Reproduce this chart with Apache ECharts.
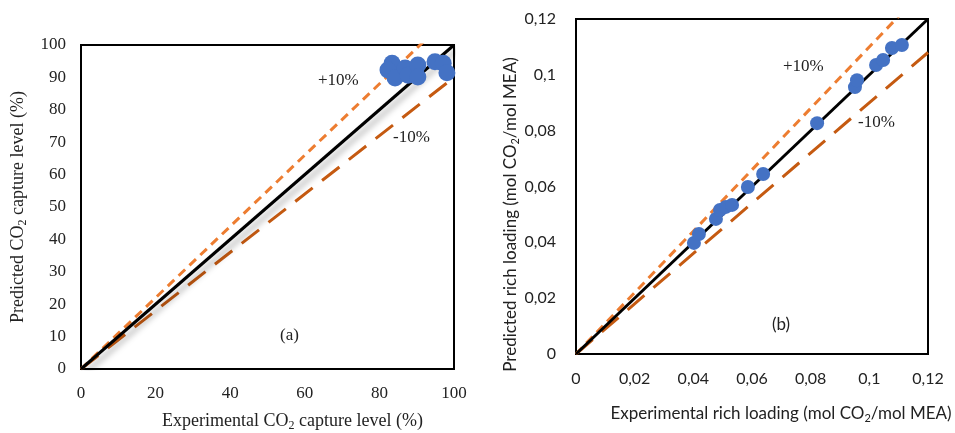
<!DOCTYPE html>
<html>
<head>
<meta charset="utf-8">
<script src="https://cdn.jsdelivr.net/npm/echarts@6/dist/echarts.min.js"></script>
<style>html,body{margin:0;padding:0;background:#fff;}#c{width:955px;height:433px;}</style>
</head>
<body>
<div id="c"></div>
<script>
// Left chart (a): CO2 capture level (%)
const captureExp = [83.4, 82.3, 84.2, 86.9, 87.7, 90.3, 90.3, 94.9, 97.1, 98.1];
const capturePred = [94.4, 92.3, 89.8, 92.9, 90.7, 93.8, 90.1, 94.8, 94.4, 91.4];
const captureTicks = ['0','10','20','30','40','50','60','70','80','90','100'];
// Right chart (b): rich loading (mol CO2/mol MEA)
const loadingExp = [0.0402, 0.0419, 0.0477, 0.0491, 0.0511, 0.0532, 0.0586, 0.0638, 0.0822, 0.0951, 0.0958, 0.1023, 0.1047, 0.1077, 0.1111];
const loadingPred = [0.0398, 0.0430, 0.0484, 0.0516, 0.0527, 0.0534, 0.0598, 0.0645, 0.0827, 0.0956, 0.0981, 0.1035, 0.1053, 0.1096, 0.1107];
const loadingTicks = ['0','0,02','0,04','0,06','0,08','0,1','0,12'];
// Reference lines: parity, +10 %, -10 %
const parityFactor = [1.0, 1.1, 0.9];

const serif = 'Liberation Serif';
const sans = 'Lato';
const blue = '#4472C4';
const orangeLight = '#ED7D31';
const orangeDark = '#C55A11';

function refLines(max, xi, yi, shadow) {
  const styles = [
    {color: '#000', width: 3, type: 'solid'},
    {color: orangeLight, width: 3, type: [9, 6]},
    {color: orangeDark, width: 3, type: [22, 12]}
  ];
  return parityFactor.map((f, i) => ({
    type: 'line', xAxisIndex: xi, yAxisIndex: yi, showSymbol: false, symbol: 'none',
    silent: true, clip: true, z: i === 0 ? 3 : 2,
    data: [[0, 0], [max, max * f]],
    lineStyle: Object.assign({}, styles[i], shadow && i === 0 ? {shadowColor: 'rgba(0,0,0,0.35)', shadowBlur: 6, shadowOffsetX: 4, shadowOffsetY: 4} : {})
  }));
}

const chart = echarts.init(document.getElementById('c'), null, {renderer: 'canvas'});
const richSerif = {
  a: {fontFamily: serif, fontSize: 18, color: '#222'},
  s: {fontFamily: serif, fontSize: 12, color: '#222', padding: [10, 0, 0, 0]}
};
const richSans = {
  a: {fontFamily: sans, fontSize: 17, color: '#222'},
  s: {fontFamily: sans, fontSize: 11, color: '#222', padding: [10, 0, 0, 0]}
};
const axisBase = {
  axisLine: {show: true, lineStyle: {color: '#000', width: 2}},
  axisTick: {show: false},
  splitLine: {show: false}
};

chart.setOption({
  animation: false,
  backgroundColor: '#fff',
  grid: [
    {left: 81, top: 45, width: 373, height: 324, containLabel: false, outerBoundsMode: 'none', show: true, borderColor: '#000', borderWidth: 2, backgroundColor: 'transparent'},
    {left: 576, top: 19, width: 352, height: 335, containLabel: false, outerBoundsMode: 'none', show: true, borderColor: '#000', borderWidth: 2, backgroundColor: 'transparent'}
  ],
  xAxis: [
    Object.assign({}, axisBase, {
      type: 'value', gridIndex: 0, min: 0, max: 100, interval: 20,
      axisLabel: {fontFamily: serif, fontSize: 17, color: '#222', margin: 16,
        formatter: v => captureTicks[Math.round(v / 10)]},
      name: '{a|Experimental CO}{s|2}{a| capture level (%)}', nameLocation: 'middle', nameGap: 41,
      nameTextStyle: {rich: richSerif, padding: [0, 0, 0, 50]}
    }),
    Object.assign({}, axisBase, {
      type: 'value', gridIndex: 1, min: 0, max: 0.12, interval: 0.02,
      axisLabel: {fontFamily: sans, fontSize: 16, color: '#222', margin: 17,
        formatter: v => loadingTicks[Math.round(v / 0.02)]},
      name: '{a|Experimental rich loading (mol CO}{s|2}{a|/mol MEA)}', nameLocation: 'middle', nameGap: 49,
      nameTextStyle: {rich: richSans, padding: [0, 0, 0, 58]}
    })
  ],
  yAxis: [
    Object.assign({}, axisBase, {
      type: 'value', gridIndex: 0, min: 0, max: 100, interval: 10,
      axisLabel: {fontFamily: serif, fontSize: 17, color: '#222', margin: 15,
        formatter: v => captureTicks[Math.round(v / 10)]},
      name: '{a|Predicted CO}{s|2}{a| capture level (%)}', nameLocation: 'middle', nameGap: 52, nameRotate: 90,
      nameTextStyle: {rich: richSerif}
    }),
    Object.assign({}, axisBase, {
      type: 'value', gridIndex: 1, min: 0, max: 0.12, interval: 0.02,
      axisLabel: {fontFamily: sans, fontSize: 16, color: '#222', margin: 20,
        formatter: v => loadingTicks[Math.round(v / 0.02)]},
      name: '{a|Predicted rich loading (mol CO}{s|2}{a|/mol MEA)}', nameLocation: 'middle', nameGap: 50, nameRotate: 90,
      nameTextStyle: {rich: richSans, padding: [0, 56, 0, 0]}
    })
  ],
  series: [
    ...refLines(100, 0, 0, true),
    {type: 'scatter', xAxisIndex: 0, yAxisIndex: 0, symbolSize: 17, z: 5,
      itemStyle: {color: blue, opacity: 1}, data: captureExp.map((x, i) => [x, capturePred[i]])},
    ...refLines(0.12, 1, 1, false),
    {type: 'scatter', xAxisIndex: 1, yAxisIndex: 1, symbolSize: 14, z: 5,
      itemStyle: {color: blue, opacity: 1}, data: loadingExp.map((x, i) => [x, loadingPred[i]])}
  ],
  graphic: [
    {type: 'text', left: 318, top: 72, style: {text: '+10%', font: '17px "Liberation Serif"', fill: '#222'}},
    {type: 'text', left: 393, top: 129, style: {text: '-10%', font: '17px "Liberation Serif"', fill: '#222'}},
    {type: 'text', left: 280, top: 327, style: {text: '(a)', font: '17px "Liberation Serif"', fill: '#222'}},
    {type: 'text', left: 783, top: 58, style: {text: '+10%', font: '17px "Liberation Serif"', fill: '#222'}},
    {type: 'text', left: 858, top: 114, style: {text: '-10%', font: '17px "Liberation Serif"', fill: '#222'}},
    {type: 'text', left: 772, top: 316, style: {text: '(b)', font: '17px Lato', fill: '#222'}}
  ]
});
</script>
</body>
</html>
